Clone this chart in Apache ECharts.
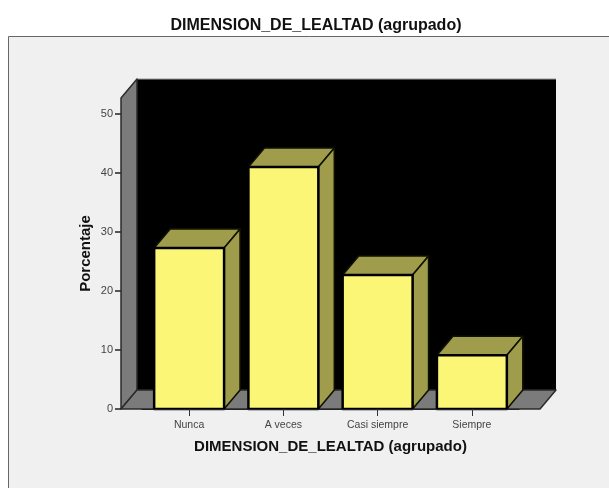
<!DOCTYPE html>
<html>
<head>
<meta charset="utf-8" />
<style>
  html, body { margin: 0; padding: 0; background: #fff; }
  #chart { width: 609px; height: 488px; }
</style>
<script src="https://cdn.jsdelivr.net/npm/echarts@6/dist/echarts.min.js"></script>
</head>
<body>
<div id="chart"></div>
<script>
const categories = ["Nunca", "A veces", "Casi siempre", "Siempre"];
const percentages = [27.3, 41, 22.7, 9.1];
const yTicks = [0, 10, 20, 30, 40, 50];
const yMax = 52.7;
const titleText = "DIMENSION_DE_LEALTAD (agrupado)";
const yTitle = "Porcentaje";

const depthX = 16;
const depthY = -19;
const axisPad = 21; // el suelo sobresale del eje de categorias
const FONT = '"Liberation Sans", Arial, sans-serif';

const chart = echarts.init(document.getElementById("chart"));

// paredes y suelo de la caja 3D
const renderBox = (params, api) => {
  const sys = params.coordSys;
  const left = sys.x - axisPad;
  const right = sys.x + sys.width + axisPad;
  const bottom = api.coord([0, 0])[1];
  const top = sys.y;
  const edge = { stroke: "#2a2a2a", lineWidth: 1.5, lineJoin: "round" };
  return {
    type: "group",
    children: [
      {
        type: "polygon",
        shape: { points: [[left + depthX, top + depthY], [right + depthX, top + depthY], [right + depthX, bottom + depthY], [left + depthX, bottom + depthY]] },
        style: { fill: "#000" }
      },
      {
        type: "line",
        shape: { x1: left + depthX, y1: top + depthY, x2: right + depthX, y2: top + depthY },
        style: { stroke: "#999", lineWidth: 1 }
      },
      {
        type: "polygon",
        shape: { points: [[left, top], [left + depthX, top + depthY], [left + depthX, bottom + depthY], [left, bottom]] },
        style: { fill: "#7b7b7b", ...edge }
      },
      {
        type: "polygon",
        shape: { points: [[left, bottom], [right, bottom], [right + depthX, bottom + depthY], [left + depthX, bottom + depthY]] },
        style: { fill: "#7b7b7b", ...edge }
      }
    ]
  };
};

// cada barra: cara superior, lateral y frontal
const renderBar = (params, api) => {
  const base = api.coord([api.value(0), 0]);
  const head = api.coord([api.value(0), api.value(1)]);
  const w = api.size([1, 0])[0] * 0.742;
  const x0 = base[0] - w / 2;
  const x1 = base[0] + w / 2;
  const edge = { stroke: "#000", lineWidth: 2.5, lineJoin: "round" };
  const faceEdge = { stroke: "#111100", lineWidth: 1.6, lineJoin: "round" };
  return {
    type: "group",
    children: [
      {
        type: "polygon",
        shape: { points: [[x0, head[1]], [x0 + depthX, head[1] + depthY], [x1 + depthX, head[1] + depthY], [x1, head[1]]] },
        style: { fill: "#9f9d4b", ...faceEdge }
      },
      {
        type: "polygon",
        shape: { points: [[x1, head[1]], [x1 + depthX, head[1] + depthY], [x1 + depthX, base[1] + depthY], [x1, base[1]]] },
        style: { fill: "#9f9d4b", ...faceEdge }
      },
      {
        type: "rect",
        shape: { x: x0, y: head[1], width: w, height: base[1] - head[1] },
        style: { fill: "#fbf676", ...edge }
      }
    ]
  };
};

chart.setOption({
  animation: false,
  backgroundColor: "#fff",
  textStyle: { fontFamily: FONT },
  title: {
    text: titleText,
    left: 311,
    textAlign: "center",
    top: 13,
    textStyle: { fontSize: 16, fontWeight: "bold", color: "#111", fontFamily: FONT }
  },
  graphic: [
    {
      type: "rect",
      z: -10,
      silent: true,
      shape: { x: 8.5, y: 36.5, width: 640, height: 500 },
      style: { fill: "#f0f0f0", stroke: "#666", lineWidth: 1 }
    }
  ],
  grid: { left: 142, width: 377, top: 98, height: 311 },
  xAxis: {
    type: "category",
    data: categories,
    name: titleText,
    nameLocation: "middle",
    nameGap: 30,
    nameTextStyle: { fontSize: 15, fontWeight: "bold", color: "#111", fontFamily: FONT },
    axisTick: { show: true, alignWithLabel: true, length: 7, lineStyle: { color: "#333", width: 1 } },
    axisLine: { show: true, lineStyle: { color: "#222", width: 1 } },
    axisLabel: { fontSize: 10.5, color: "#444", margin: 11, interval: 0 },
    z: 10
  },
  yAxis: {
    type: "value",
    min: 0,
    max: yMax,
    interval: 10,
    offset: axisPad,
    name: yTitle,
    nameLocation: "middle",
    nameGap: 28,
    nameMoveOverlap: false,
    nameTextStyle: { fontSize: 15, fontWeight: "bold", color: "#111", fontFamily: FONT },
    splitLine: { show: false },
    axisLine: { show: false },
    axisTick: { show: true, length: 6, customValues: yTicks, lineStyle: { color: "#222", width: 1.5 } },
    axisLabel: { fontSize: 11, color: "#444", margin: 8, customValues: yTicks }
  },
  series: [
    { type: "custom", renderItem: renderBox, data: [[0, 0]], silent: true, z: 1, clip: false },
    {
      type: "custom",
      renderItem: renderBar,
      data: percentages.map((v, i) => [i, v]),
      encode: { x: 0, y: 1 },
      z: 2,
      clip: false
    }
  ]
});
</script>
</body>
</html>
